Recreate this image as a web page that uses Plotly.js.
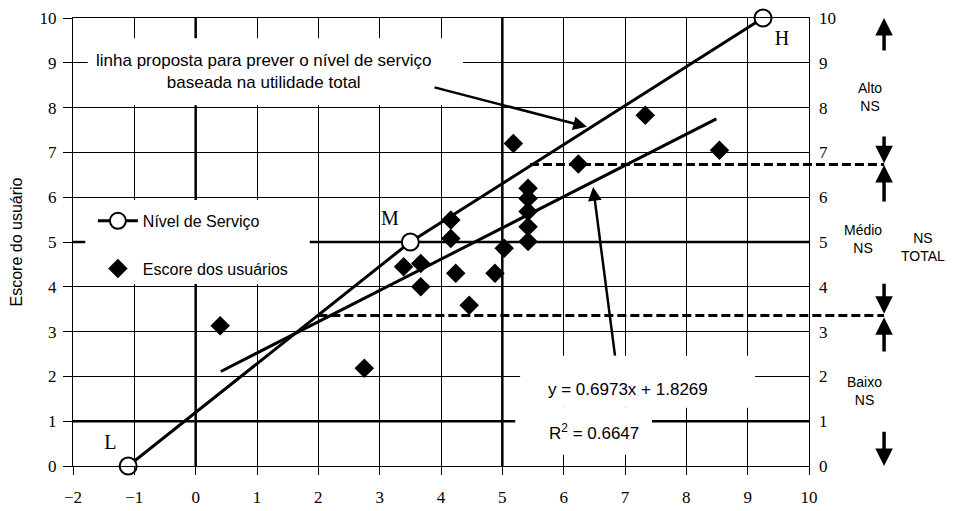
<!DOCTYPE html>
<html>
<head>
<meta charset="utf-8">
<script src="https://cdn.plot.ly/plotly-3.0.1.min.js"></script>
<style>html,body{margin:0;padding:0;background:#fff;}#chart{width:967px;height:511px;}</style>
</head>
<body>
<div id="chart"></div>
<script>
// ---- data ----
const scoreX = [0.40, 2.75, 3.39, 3.67, 3.67, 4.16, 4.16, 4.24, 4.46, 4.88, 5.03, 5.18, 5.42, 5.42, 5.42, 5.42, 5.42, 6.24, 7.33, 8.54];
const scoreY = [3.13, 2.18, 4.45, 4.52, 4.00, 5.49, 5.08, 4.30, 3.59, 4.30, 4.86, 7.20, 6.20, 5.97, 5.68, 5.34, 5.01, 6.74, 7.83, 7.05];
const nsX = [-1.1, 3.5, 9.25];
const nsY = [0, 5, 10];
const nsLabels = ['L', 'M', 'H'];
const trendX = [0.41, 8.49];
const trendY = [2.11, 7.75];
const levelY = [3.36, 6.73];        // limits between NS classes
const levelStartX = [2.0, 5.45];    // where dashed limit lines start
const xTicks = [-2, -1, 0, 1, 2, 3, 4, 5, 6, 7, 8, 9, 10];
const yTicks = [0, 1, 2, 3, 4, 5, 6, 7, 8, 9, 10];
const eqText = 'y = 0.6973x + 1.8269';
const r2Text = 'R<sup>2</sup> = 0.6647';
const noteText = 'linha proposta para prever o nível de serviço<br>baseada na utilidade total';
const classLabels = ['Alto<br>NS', 'Médio<br>NS', 'Baixo<br>NS'];
const classLabelY = [8.24, 5.07, 1.67];
const totalLabel = 'NS<br>TOTAL';

const xRange = [-2, 10];
const yRange = [0, 10];
const NARROW = "Liberation Sans Narrow, Arial Narrow, Liberation Sans, Arial, sans-serif";
const SERIF = "Liberation Serif, Times New Roman, serif";
const SANS = "Liberation Sans, Arial, sans-serif";

const traces = [
  {
    x: nsX, y: nsY, text: nsLabels, name: 'Nível de Serviço',
    mode: 'lines+markers+text', type: 'scatter',
    legendgroup: 'a',
    textposition: ['top left', 'top left', 'bottom right'],
    textfont: {family: SERIF, size: 20, color: '#000'},
    line: {color: '#000', width: 3},
    marker: {symbol: 'circle', size: 17, color: '#fff', line: {color: '#000', width: 2}},
    cliponaxis: false
  },
  {
    x: scoreX, y: scoreY, name: 'Escore dos usuários',
    mode: 'markers', type: 'scatter', legendgroup: 'b',
    marker: {symbol: 'diamond', size: 15, color: '#000'},
    cliponaxis: false
  },
  {
    x: trendX, y: trendY, mode: 'lines', type: 'scatter', showlegend: false,
    line: {color: '#000', width: 3}
  },
  {
    x: [null], y: [null], yaxis: 'y2', mode: 'markers', showlegend: false, hoverinfo: 'skip'
  }
];

const toDomX = v => (v - xRange[0]) / (xRange[1] - xRange[0]);
const arrowX = 1.102;

const shapes = [];
// heavier grid lines
[0, 5].forEach(v => shapes.push({type: 'line', layer: 'below', xref: 'x', yref: 'y', x0: v, x1: v, y0: yRange[0], y1: yRange[1], line: {color: '#000', width: 2.5}}));
[1, 5].forEach(v => shapes.push({type: 'line', layer: 'below', xref: 'x', yref: 'y', x0: xRange[0], x1: xRange[1], y0: v, y1: v, line: {color: '#000', width: 2.5}}));
// dashed limit lines
levelY.forEach((v, i) => shapes.push({type: 'line', layer: 'above', xref: 'paper', yref: 'y', x0: toDomX(levelStartX[i]), x1: arrowX, y0: v, y1: v, line: {color: '#000', width: 3, dash: '9px,4px'}}));
// white panels behind the text boxes
const panels = [
  [-1.76, 4.36, 8.05, 9.55],
  [-1.80, 1.86, 4.06, 5.94],
  [5.29, 9.12, 1.30, 2.46],
  [5.21, 7.44, 0.25, 1.30]
];
panels.forEach(p => shapes.push({type: 'rect', layer: 'above', xref: 'x', yref: 'y', x0: p[0], x1: p[1], y0: p[2], y1: p[3], fillcolor: '#fff', line: {width: 0}}));

const annotations = [
  {xref: 'x', yref: 'y', x: 1.1, y: 8.8, text: noteText, showarrow: false, align: 'center', font: {family: NARROW, size: 17, color: '#000'}},
  {xref: 'x', yref: 'y', x: 6.38, y: 7.57, axref: 'x', ayref: 'y', ax: 3.87, ay: 8.46, text: '', showarrow: true, arrowhead: 2, arrowsize: 1.1, arrowwidth: 2.5, arrowcolor: '#000', standoff: 0},
  {xref: 'x', yref: 'y', x: 6.48, y: 6.23, axref: 'x', ayref: 'y', ax: 6.84, ay: 2.43, text: '', showarrow: true, arrowhead: 2, arrowsize: 1.1, arrowwidth: 2.5, arrowcolor: '#000', standoff: 0},
  {xref: 'x', yref: 'y', x: 7.05, y: 1.70, text: eqText, showarrow: false, font: {family: SANS, size: 17, color: '#000'}},
  {xref: 'x', yref: 'y', x: 6.50, y: 0.76, text: r2Text, showarrow: false, font: {family: SANS, size: 17, color: '#000'}},
  {xref: 'paper', yref: 'paper', x: 1.1875, y: 0.488, text: totalLabel, showarrow: false, font: {family: NARROW, size: 14, color: '#000'}}
];
classLabels.forEach((t, i) => annotations.push({xref: 'paper', yref: 'y', x: arrowX, y: classLabelY[i], text: t, showarrow: false, font: {family: NARROW, size: 14, color: '#000'}}));
// vertical arrows on the right: [head, tail]
const sideArrows = [[10.0, 9.24], [6.76, 7.39], [6.72, 5.87], [3.40, 4.10], [3.32, 2.52], [0.0, 0.80]];
sideArrows.forEach(a => annotations.push({xref: 'paper', yref: 'y', x: arrowX, y: a[0], axref: 'pixel', ayref: 'y', ax: 0, ay: a[1], text: '', showarrow: true, arrowhead: 2, arrowsize: 1, arrowwidth: 3.5, arrowcolor: '#000', standoff: 0}));

const layout = {
  width: 967, height: 511,
  margin: {l: 73, r: 158, t: 18, b: 45},
  paper_bgcolor: '#fff', plot_bgcolor: '#fff',
  font: {family: SERIF, size: 17, color: '#000'},
  showlegend: true,
  legend: {x: 0.027, y: 0.585, xanchor: 'left', yanchor: 'top', bgcolor: 'rgba(0,0,0,0)', traceorder: 'grouped', tracegroupgap: 24, itemwidth: 40, font: {family: NARROW, size: 16, color: '#000'}},
  xaxis: {range: xRange, tickvals: xTicks, showgrid: true, gridcolor: '#000', gridwidth: 1, zeroline: false,
          showline: true, linecolor: '#000', linewidth: 1, mirror: true, ticks: 'outside', ticklen: 8, tickcolor: '#000', tickwidth: 1,
          ticklabelstandoff: 8, tickfont: {family: SERIF, size: 17, color: '#000'}, fixedrange: true},
  yaxis: {range: yRange, tickvals: yTicks, showgrid: true, gridcolor: '#000', gridwidth: 1, zeroline: false,
          showline: true, linecolor: '#000', linewidth: 1, mirror: true, ticks: 'outside', ticklen: 9, tickcolor: '#000', tickwidth: 1,
          ticklabelstandoff: 3, tickfont: {family: SERIF, size: 17, color: '#000'},
          title: {text: 'Escore do usuário', standoff: 12, font: {family: NARROW, size: 16, color: '#000'}}, fixedrange: true},
  yaxis2: {range: yRange, tickvals: yTicks, overlaying: 'y', side: 'right', showgrid: false, zeroline: false, showline: false,
           ticks: '', ticklabelstandoff: 9, tickfont: {family: SERIF, size: 17, color: '#000'}, fixedrange: true},
  shapes: shapes,
  annotations: annotations
};

Plotly.newPlot('chart', traces, layout, {displayModeBar: false, staticPlot: true});
</script>
</body>
</html>
